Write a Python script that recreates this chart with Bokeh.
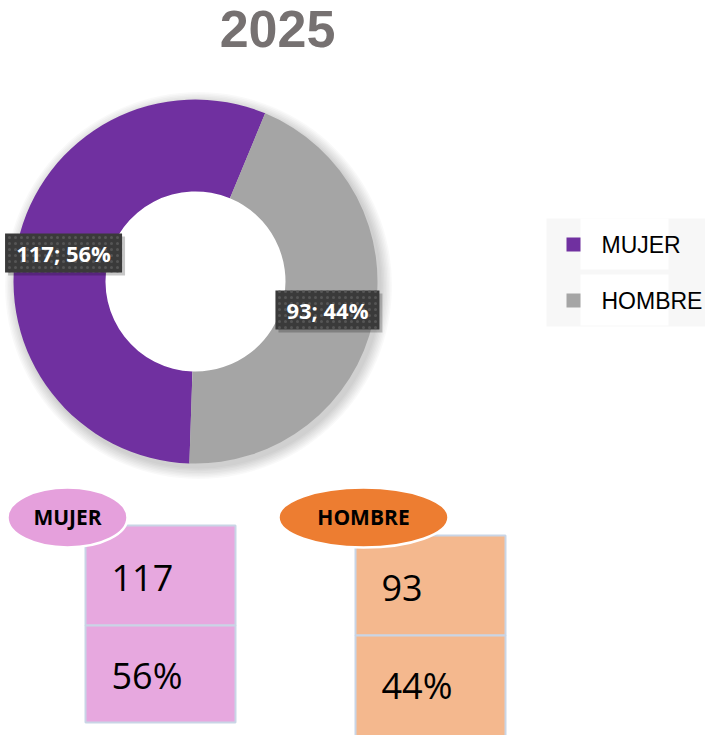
import math
from bokeh.plotting import figure
from bokeh.models import Range1d
from bokeh.core.properties import value
from bokeh.embed import file_html
from bokeh.resources import INLINE

# ---- data ----
title = "2025"
categories = ["MUJER", "HOMBRE"]
values = [117, 93]
slice_colors = ["#7030a0", "#a5a5a5"]
card_box_colors = ["#e7a8df", "#f4b88e"]
card_oval_colors = ["#e5a0dc", "#ed7d31"]

total = sum(values)
pcts = [round(100 * v / total) for v in values]

W, H = 705, 735


def Y(iy):
    return H - iy


p = figure(width=W, height=H, output_backend="svg", toolbar_location=None,
           x_range=Range1d(0, W), y_range=Range1d(0, H),
           x_axis_type=None, y_axis_type=None, min_border=0)
p.grid.visible = False
p.outline_line_color = None
p.background_fill_color = "white"
p.border_fill_color = "white"

# title
p.text(x=[277], y=[Y(28)], text=[title], text_align="center", text_baseline="middle",
       text_font=value("Liberation Sans"), text_font_style="bold",
       text_font_size="52px", text_color="#767171")

# donut
cx, cy = 195, Y(281)
r_out, r_in = 182, 90
start_deg = 67.5

# soft shadow
for i in range(8):
    p.annulus(x=[cx + 3], y=[cy - 4], inner_radius=r_in + 6, outer_radius=r_out + 1 + i * 1.5,
              fill_color="#000000", fill_alpha=0.022, line_color=None)

angles = []
a = math.radians(start_deg)
for v in values:
    span = 2 * math.pi * v / total
    angles.append((a, a + span))
    a += span

p.annular_wedge(x=[cx] * len(values), y=[cy] * len(values), inner_radius=r_in, outer_radius=r_out,
                start_angle=[s for s, e in angles], end_angle=[e for s, e in angles],
                direction="anticlock", fill_color=slice_colors, line_color=None)

# data labels
label_r = 135
for (s, e), v, pc in zip(angles, values, pcts):
    mid = (s + e) / 2
    lx = cx + label_r * math.cos(mid)
    ly = cy + label_r * math.sin(mid)
    txt = f"{v}; {pc}%"
    bw = 13 * len(txt) + 13
    bh = 39
    p.quad(left=[lx - bw / 2 + 3], right=[lx + bw / 2 + 3], top=[ly + bh / 2 - 3], bottom=[ly - bh / 2 - 3],
           fill_color="#000000", fill_alpha=0.22, line_color=None)
    p.quad(left=[lx - bw / 2], right=[lx + bw / 2], top=[ly + bh / 2], bottom=[ly - bh / 2],
           fill_color="#3a3a3a", line_color=None, hatch_pattern="dot", hatch_color="#555555",
           hatch_scale=6, hatch_weight=1.2)
    p.text(x=[lx], y=[ly], text=[txt], text_align="center", text_baseline="middle",
           text_font=value("Open Sans"), text_font_style="bold", text_font_size="22px",
           text_color="white")

# legend
p.quad(left=[546], right=[705], top=[Y(218)], bottom=[Y(326)], fill_color="#f7f7f7", line_color=None)
leg_y = [244, 300]
for i, (cat, col) in enumerate(zip(categories, slice_colors)):
    yy = leg_y[i]
    p.quad(left=[580], right=[668], top=[Y(yy - 26)], bottom=[Y(yy + 25)], fill_color="white", line_color=None)
    p.quad(left=[566], right=[580], top=[Y(yy - 7)], bottom=[Y(yy + 7)], fill_color=col, line_color=None)
    p.text(x=[601], y=[Y(yy)], text=[cat], text_align="left", text_baseline="middle",
           text_font=value("Liberation Sans"), text_font_size="23px", text_color="#000000")

# bottom cards
card_left = [85, 355]
card_top = [525, 535]
card_bottom = [722, 745]
oval_x = [67, 363]
oval_w = [120, 170]
for i, cat in enumerate(categories):
    L = card_left[i]
    T = card_top[i]
    mid = T + 100
    bot = card_bottom[i]
    for (t, b) in [(T, mid), (mid, bot)]:
        p.quad(left=[L], right=[L + 150], top=[Y(t)], bottom=[Y(b)], fill_color=card_box_colors[i],
               line_color="#c9d5e6", line_width=2)
    p.text(x=[L + 26], y=[Y(T + 52)], text=[str(values[i])], text_align="left", text_baseline="middle",
           text_font=value("Open Sans"), text_font_size="36px", text_color="#000000")
    p.text(x=[L + 26], y=[Y(mid + 50)], text=[f"{pcts[i]}%"], text_align="left", text_baseline="middle",
           text_font=value("Open Sans"), text_font_size="36px", text_color="#000000")
    p.ellipse(x=[oval_x[i]], y=[Y(517)], width=oval_w[i], height=60, fill_color=card_oval_colors[i],
              line_color="white", line_width=2.5)
    p.text(x=[oval_x[i]], y=[Y(516)], text=[cat], text_align="center", text_baseline="middle",
           text_font=value("Open Sans"), text_font_style="bold", text_font_size="21px", text_color="#000000")

open("out.html", "w").write(file_html(p, INLINE))
